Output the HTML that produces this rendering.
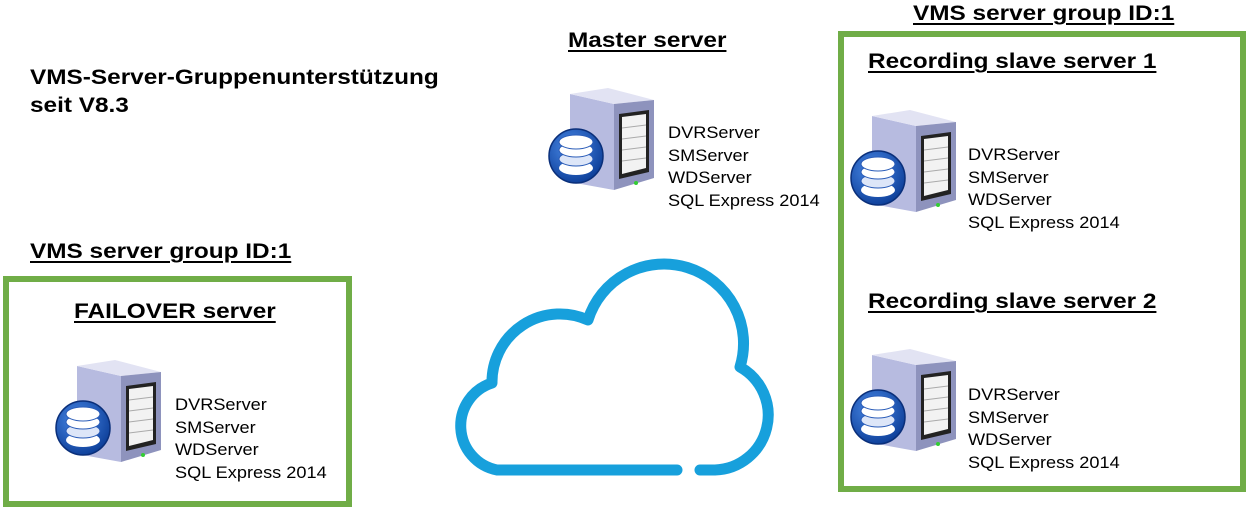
<!DOCTYPE html>
<html><head><meta charset="utf-8"><style>
body{margin:0;width:1247px;height:513px;background:#fff;position:relative;overflow:hidden;font-family:"Liberation Sans","DejaVu Sans",sans-serif;color:#000}
.t{position:absolute;font-weight:bold;font-size:21px;white-space:nowrap;line-height:1;transform:scaleX(1.16);transform-origin:0 0}
.u{text-decoration:underline;text-decoration-thickness:2px;text-underline-offset:3px}
.l{position:absolute;font-size:16.5px;line-height:22.5px;white-space:nowrap;transform:scaleX(1.1);transform-origin:0 0}
.box{position:absolute;border:6px solid #70ad47;box-sizing:border-box}
svg.i{position:absolute;width:112px;height:104px}
</style></head><body>
<svg width="0" height="0" style="position:absolute"><defs>
<radialGradient id="db" cx="0.4" cy="0.35" r="0.7"><stop offset="0" stop-color="#4a8ae8"/><stop offset="1" stop-color="#0b3c96"/></radialGradient>
<g id="srv">
<polygon points="22,8 66,18 66,104 22,96" fill="#b7bbe0"/>
<polygon points="22,8 60,2 106,14 66,18" fill="#e2e3f3"/>
<polygon points="66,18 106,14 106,92 66,104" fill="#8e93bd"/>
<polygon points="71,28 101,24 101,86 71,93" fill="#222"/>
<polygon points="74,31 98,28 98,82 74,88" fill="#f2f2f2"/>
<g stroke="#aaa" stroke-width="1"><line x1="74" y1="42" x2="98" y2="39"/><line x1="74" y1="53" x2="98" y2="50"/><line x1="74" y1="64" x2="98" y2="61"/><line x1="74" y1="75" x2="98" y2="72"/></g>
<circle cx="88" cy="97" r="2" fill="#3c3"/>
<circle cx="28" cy="70" r="27" fill="url(#db)" stroke="#0a2f7a" stroke-width="1.5"/>
<ellipse cx="28" cy="82" rx="17" ry="7" fill="#fff"/>
<ellipse cx="28" cy="73" rx="17" ry="7" fill="#dde6f8" stroke="#2a5cb8"/>
<ellipse cx="28" cy="64" rx="17" ry="7" fill="#fff" stroke="#2a5cb8"/>
<ellipse cx="28" cy="56" rx="17" ry="7" fill="#fff" stroke="#2a5cb8"/>
</g></defs></svg>

<div class="t" style="left:30px;top:64px;line-height:28px">VMS-Server-Gruppenunterstützung<br>seit V8.3</div>
<div class="t u" style="left:568px;top:30px">Master server</div>
<svg class="i" style="left:548px;top:86px"><use href="#srv"/></svg>
<div class="l" style="left:668px;top:122px">DVRServer<br>SMServer<br>WDServer<br>SQL Express 2014</div>

<div class="t u" style="left:913px;top:3px">VMS server group ID:1</div>
<div class="box" style="left:838px;top:31px;width:408px;height:461px"></div>
<div class="t u" style="left:868px;top:51px">Recording slave server 1</div>
<svg class="i" style="left:850px;top:108px"><use href="#srv"/></svg>
<div class="l" style="left:968px;top:144px">DVRServer<br>SMServer<br>WDServer<br>SQL Express 2014</div>
<div class="t u" style="left:868px;top:291px">Recording slave server 2</div>
<svg class="i" style="left:850px;top:347px"><use href="#srv"/></svg>
<div class="l" style="left:968px;top:384px">DVRServer<br>SMServer<br>WDServer<br>SQL Express 2014</div>

<div class="t u" style="left:30px;top:241px">VMS server group ID:1</div>
<div class="box" style="left:3px;top:276px;width:349px;height:231px"></div>
<div class="t u" style="left:74px;top:301px">FAILOVER server</div>
<svg class="i" style="left:55px;top:358px"><use href="#srv"/></svg>
<div class="l" style="left:175px;top:394px">DVRServer<br>SMServer<br>WDServer<br>SQL Express 2014</div>

<svg style="position:absolute;left:0;top:0" width="1247" height="513">
<path d="M677 470 L497 470 A45 45 0 0 1 492 383 A68 68 0 0 1 588 320 A77 77 0 0 1 740 367 A55 55 0 0 1 715 470 L700 470" fill="none" stroke="#17a0dc" stroke-width="11" stroke-linecap="round" stroke-linejoin="round"/>
</svg>
</body></html>
